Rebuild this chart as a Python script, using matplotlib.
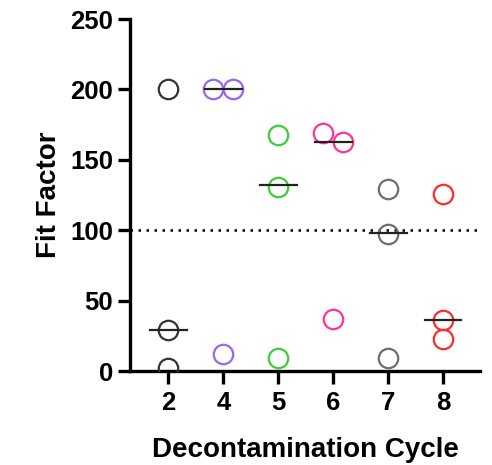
import matplotlib.pyplot as plt
import numpy as np

plt.rcParams['font.family'] = ['Liberation Sans', 'DejaVu Sans']
plt.rcParams['font.weight'] = 'bold'

# data
cycles = ['2', '4', '5', '6', '7', '8']
fit_factor = [
    [200, 29, 2],
    [200, 200, 12],
    [168, 131, 9],
    [169, 163, 37],
    [129, 97, 9],
    [126, 36, 23],
]
jitter = [
    [0, 0, 0],
    [-0.18, 0.18, 0],
    [0, 0, 0],
    [-0.18, 0.18, 0],
    [0, 0, 0],
    [0, 0, 0],
]
medians = [29, 200, 132, 163, 98, 36]
colors = ['#333333', '#9a66ee', '#3ccc3c', '#ff3399', '#6e6e6e', '#ff2a2a']
threshold = 100

fig = plt.figure(figsize=(4.92, 4.65), dpi=100)
ax = fig.add_axes([0.264, 0.202, 0.712, 0.757])

x = np.arange(len(cycles))
for i in range(len(cycles)):
    xs = x[i] + np.array(jitter[i])
    ax.plot(xs, fit_factor[i], 'o', ms=14, mfc='none', mec=colors[i], mew=1.6, zorder=3)
    ax.plot([x[i] - 0.33, x[i] + 0.33], [medians[i]] * 2, color='#222222', lw=1.6, zorder=4)

ax.axhline(threshold, color='black', lw=1.8, ls=(0, (1, 2.2)), zorder=2)

ax.set_xlim(-0.7, 5.67)
ax.set_ylim(0, 250)
ax.set_yticks([0, 50, 100, 150, 200, 250])
ax.set_xticks(x)
ax.set_xticklabels(cycles)

for s in ['top', 'right']:
    ax.spines[s].set_visible(False)
for s in ['left', 'bottom']:
    ax.spines[s].set_linewidth(2.4)
ax.tick_params(width=2.4, length=9, labelsize=18.5)
ax.tick_params(axis='y', pad=3)
ax.tick_params(axis='x', pad=5)

ax.set_xlabel('Decontamination Cycle', fontsize=20, fontweight='bold', labelpad=16)
ax.set_ylabel('Fit Factor', fontsize=20, fontweight='bold', labelpad=6)

plt.savefig('out.png', dpi=100)
